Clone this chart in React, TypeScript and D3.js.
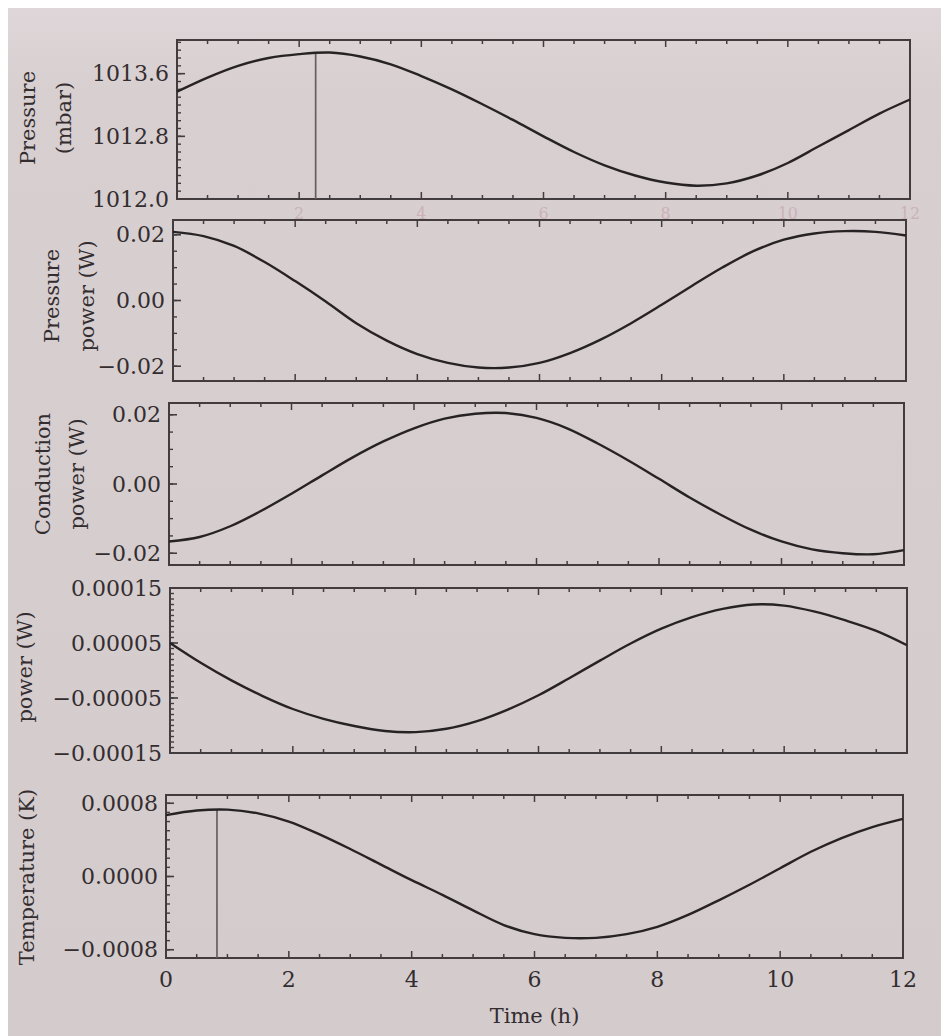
import React, { useEffect } from "react";
import * as d3 from "d3";

// ---------------- data ----------------
const TIME = [0, 0.5, 1, 1.5, 2, 2.5, 3, 3.5, 4, 4.5, 5, 5.5, 6, 6.5, 7, 7.5, 8, 8.5, 9, 9.5, 10, 10.5, 11, 11.5, 12];

const PRESSURE = [1013.37, 1013.55, 1013.70, 1013.80, 1013.85, 1013.87, 1013.82, 1013.72, 1013.57, 1013.40, 1013.21, 1013.01,
  1012.80, 1012.60, 1012.43, 1012.30, 1012.21, 1012.17, 1012.20, 1012.30, 1012.46, 1012.67, 1012.88, 1013.09, 1013.27];

const PRESSURE_POWER = [0.0209, 0.0196, 0.0166, 0.0117, 0.0059, -0.0003, -0.0069, -0.0122, -0.0163, -0.0190, -0.0204, -0.0204,
  -0.0190, -0.0160, -0.0119, -0.0069, -0.0013, 0.0045, 0.0101, 0.0150, 0.0185, 0.0204, 0.0211, 0.0209, 0.0198];

const CONDUCTION_POWER = [-0.0166, -0.0153, -0.0122, -0.0078, -0.0028, 0.0025, 0.0077, 0.0123, 0.0161, 0.0189, 0.0203, 0.0205,
  0.0191, 0.0161, 0.0117, 0.0068, 0.0015, -0.0039, -0.0088, -0.0132, -0.0166, -0.0189, -0.0200, -0.0203, -0.0191];

const POWER = [0.00005, 0.000014, -0.000018, -0.000046, -0.00007, -0.000088, -0.000101, -0.00011, -0.000112, -0.000106, -0.000092,
  -0.000071, -0.000045, -0.000014, 0.000018, 0.000049, 0.000076, 0.000097, 0.000112, 0.00012, 0.000118, 0.000107, 0.000091,
  0.000072, 0.000046];

const TEMPERATURE = [0.00067, 0.00072, 0.00073, 0.00069, 0.0006, 0.00046, 0.0003, 0.00013, -0.00004, -0.0002, -0.00037, -0.00053,
  -0.00063, -0.00067, -0.00067, -0.00063, -0.00055, -0.00042, -0.00026, -0.00009, 0.00009, 0.00027, 0.00042, 0.00054, 0.00063];

const X_TICKS = [0, 2, 4, 6, 8, 10, 12];
const X_TICK_LABELS = ["0", "2", "4", "6", "8", "10", "12"];
const X_LABEL = "Time (h)";

const Y_TICKS_PRESSURE = [1012.0, 1012.8, 1013.6];
const Y_LABELS_PRESSURE = ["1012.0", "1012.8", "1013.6"];
const Y_TICKS_PPOWER = [-0.02, 0, 0.02];
const Y_LABELS_PPOWER = ["\u22120.02", "0.00", "0.02"];
const Y_TICKS_CPOWER = [-0.02, 0, 0.02];
const Y_LABELS_CPOWER = ["\u22120.02", "0.00", "0.02"];
const Y_TICKS_POWER = [-0.00015, -0.00005, 0.00005, 0.00015];
const Y_LABELS_POWER = ["\u22120.00015", "\u22120.00005", "0.00005", "0.00015"];
const Y_TICKS_TEMP = [-0.0008, 0, 0.0008];
const Y_LABELS_TEMP = ["\u22120.0008", "0.0000", "0.0008"];

const TITLE_PRESSURE = ["Pressure", "(mbar)"];
const TITLE_PPOWER = ["Pressure", "power (W)"];
const TITLE_CPOWER = ["Conduction", "power (W)"];
const TITLE_POWER = ["power (W)"];
const TITLE_TEMP = ["Temperature (K)"];

const MARKER_PRESSURE = 2.27;
const MARKER_TEMP = 0.83;

// ---------------- layout / style ----------------
const W = 941;
const H = 1028;
const OX = 8;
const OY = 8;
const FONT = "'DejaVu Serif', 'Liberation Serif', serif";
const INK = "#332d2f";
const LINE = "#272324";
const FRAME = "#433c3e";

const PANELS = [
  { values: PRESSURE, domain: [1012.0, 1014.03], ticks: Y_TICKS_PRESSURE, labels: Y_LABELS_PRESSURE, minor: [1012.0, 1014.0, 0.1],
    title: TITLE_PRESSURE, box: { left: 177, right: 910, top: 40, bottom: 199 }, titleX: [28, 64], titleY: 118, marker: MARKER_PRESSURE },
  { values: PRESSURE_POWER, domain: [-0.0245, 0.0245], ticks: Y_TICKS_PPOWER, labels: Y_LABELS_PPOWER, minor: [-0.02, 0.02, 0.005],
    title: TITLE_PPOWER, box: { left: 173, right: 906, top: 220, bottom: 381 }, titleX: [52, 87], titleY: 296, marker: null },
  { values: CONDUCTION_POWER, domain: [-0.0234, 0.0234], ticks: Y_TICKS_CPOWER, labels: Y_LABELS_CPOWER, minor: [-0.02, 0.02, 0.005],
    title: TITLE_CPOWER, box: { left: 169, right: 904, top: 403, bottom: 565 }, titleX: [43, 77], titleY: 474, marker: null },
  { values: POWER, domain: [-0.00015, 0.00015], ticks: Y_TICKS_POWER, labels: Y_LABELS_POWER, minor: [-0.00015, 0.00015, 0.00001],
    title: TITLE_POWER, box: { left: 170, right: 907, top: 588, bottom: 753 }, titleX: [25], titleY: 667, marker: null },
  { values: TEMPERATURE, domain: [-0.00089, 0.00089], ticks: Y_TICKS_TEMP, labels: Y_LABELS_TEMP, minor: [-0.0008, 0.0008, 0.0001],
    title: TITLE_TEMP, box: { left: 166, right: 903, top: 795, bottom: 958 }, titleX: [27], titleY: 877, marker: MARKER_TEMP },
];

function interp(t: number, values: number[]) {
  const i = Math.min(TIME.length - 2, Math.max(0, d3.bisectRight(TIME, t) - 1));
  const f = (t - TIME[i]) / (TIME[i + 1] - TIME[i]);
  return values[i] + f * (values[i + 1] - values[i]);
}

function Panel({ p, idx }: { p: any; idx: number }) {
  const b = { left: p.box.left - OX, right: p.box.right - OX, top: p.box.top - OY, bottom: p.box.bottom - OY };
  const x = d3.scaleLinear().domain([0, 12]).range([b.left, b.right]);
  const y = d3.scaleLinear().domain(p.domain).range([b.bottom, b.top]);
  const line = d3
    .line<number>()
    .x((_, i) => x(TIME[i]))
    .y((d) => y(d))
    .curve(d3.curveCatmullRom.alpha(0.5));
  const xMinor = d3.range(0, 12.001, 0.5);
  const [m0, m1, ms] = p.minor;
  const yMinor = d3.range(Math.round((m1 - m0) / ms) + 1).map((k) => m0 + k * ms);
  const isLast = idx === PANELS.length - 1;
  const isFirst = idx === 0;

  return (
    <g>
      {xMinor.map((t, i) => {
        const major = X_TICKS.includes(t);
        const len = major ? 7 : 4;
        return (
          <g key={"xt" + i}>
            <line x1={x(t)} x2={x(t)} y1={b.bottom} y2={b.bottom - len} stroke={FRAME} strokeWidth={1.5} />
            <line x1={x(t)} x2={x(t)} y1={b.top} y2={b.top + len} stroke={FRAME} strokeWidth={1.5} />
          </g>
        );
      })}
      {yMinor.map((v, i) => (
        <line key={"ym" + i} x1={b.left} x2={b.left + 4} y1={y(v)} y2={y(v)} stroke={FRAME} strokeWidth={1.4} />
      ))}
      {p.ticks.map((v: number, i: number) => (
        <g key={"yt" + i}>
          <line x1={b.left} x2={b.left + 8} y1={y(v)} y2={y(v)} stroke={FRAME} strokeWidth={1.6} />
          <text x={b.left - 8} y={y(v)} textAnchor="end" dominantBaseline="central" fontFamily={FONT} fontSize={22} fill={INK}>
            {p.labels[i]}
          </text>
        </g>
      ))}
      <rect x={b.left} y={b.top} width={b.right - b.left} height={b.bottom - b.top} fill="none" stroke={FRAME} strokeWidth={2} />
      {p.marker !== null && (
        <line x1={x(p.marker)} x2={x(p.marker)} y1={y(interp(p.marker, p.values))} y2={b.bottom}
          stroke="#675e60" strokeWidth={1.7} />
      )}
      <path d={line(p.values) || ""} fill="none" stroke={LINE} strokeWidth={2.4} strokeLinejoin="round" />
      {p.title.map((s: string, i: number) => (
        <text key={"ti" + i} transform={`translate(${p.titleX[i] - OX},${p.titleY - OY}) rotate(-90)`} textAnchor="middle"
          dominantBaseline="central" fontFamily={FONT} fontSize={21} fill={INK}>
          {s}
        </text>
      ))}
      {isFirst && X_TICKS.slice(1).map((t, i) => (
        <text key={"fx" + i} x={x(t)} y={b.bottom + 14} textAnchor="middle" dominantBaseline="central" fontFamily={FONT}
          fontSize={16} fill="#c29aa4" opacity={0.55}>
          {X_TICK_LABELS[i + 1]}
        </text>
      ))}
      {isLast && X_TICKS.map((t, i) => (
        <text key={"xl" + i} x={x(t)} y={b.bottom + 21} textAnchor="middle" dominantBaseline="central" fontFamily={FONT}
          fontSize={22} fill={INK}>
          {X_TICK_LABELS[i]}
        </text>
      ))}
      {isLast && (
        <text x={(b.left + b.right) / 2} y={b.bottom + 58} textAnchor="middle" dominantBaseline="central" fontFamily={FONT}
          fontSize={21} fill={INK}>
          {X_LABEL}
        </text>
      )}
    </g>
  );
}

export default function App() {
  useEffect(() => {
    document.documentElement.style.overflow = "hidden";
  }, []);
  return (
    <svg width={W} height={H} style={{ display: "block" }}>
      <defs>
        <linearGradient id="paper" x1="0" y1="0" x2="0" y2="1">
          <stop offset="0" stopColor="#ded6d8" />
          <stop offset="0.08" stopColor="#d8cfd1" />
          <stop offset="1" stopColor="#d4cbcd" />
        </linearGradient>
      </defs>
      <rect x={0} y={0} width={W} height={H} fill="url(#paper)" />
      {PANELS.map((p, i) => (
        <Panel key={i} p={p} idx={i} />
      ))}
    </svg>
  );
}
